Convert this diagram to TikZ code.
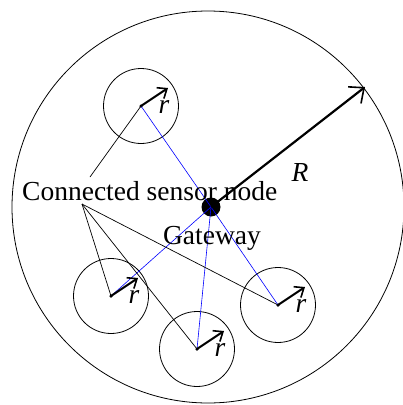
\documentclass[tikz,border=0pt]{standalone}
\usepackage{fontspec}
\setmainfont{Liberation Serif}
\usetikzlibrary{arrows.meta,positioning,calc}
\tikzset{
  field/.style={draw, circle, minimum size=392pt, inner sep=0pt, line width=0.8pt},
  cover/.style={draw, circle, minimum size=75pt, inner sep=0pt, line width=0.8pt},
  sensor/.style={circle, fill, inner sep=0pt, minimum size=3.5pt},
  gwdot/.style={circle, fill, inner sep=0pt, minimum size=19pt},
  rarrow/.style={-{Straight Barb[length=8pt,width=13pt,line width=1.6pt]}, line width=2pt},
  Rarrow/.style={-{Straight Barb[length=12pt,width=21pt,line width=1.6pt]}, line width=2.2pt},
  link/.style={blue, line width=0.6pt},
  lead/.style={black, line width=0.7pt},
  lbl/.style={font=\fontsize{27.5}{32}\selectfont, inner sep=0pt},
}
\begin{document}
\begin{tikzpicture}[x=1pt,y=-1pt]
  \useasboundingbox (0,0) rectangle (403,405);
  % sensing field and gateway
  \node[field] (fld) at (208,207) {};
  \node[gwdot] (gw) at (211,207) {};
  \coordinate (Rtip) at (365,87);
  % sensor nodes
  \foreach \n/\x/\y in {1/141/106, 2/111/296, 3/197/349, 4/278/305} {
    \node[sensor] (s\n) at (\x,\y) {};
    \node[cover] (c\n) at (s\n) {};
    \coordinate (t\n) at ($(s\n)+(27,-18)$);
  }
  % links to the gateway
  \foreach \n in {1,...,4}
    \draw[link] (gw.center) -- (s\n.center);
  % label and its leaders
  \node[lbl, anchor=base west] (csn) at (22,200) {Connected sensor node};
  \coordinate (up) at (90,177);
  \coordinate (dn) at (82,204);
  \draw[lead] (up) -- (s1.center);
  \foreach \n in {2,3,4}
    \draw[lead] (dn) -- (s\n.center);
  % radii
  \foreach \n in {1,...,4} {
    \draw[rarrow] (s\n.center) -- (t\n);
    \node[lbl] (r\n) at ($(s\n)+(23,1)$) {\textit{r}};
  }
  \draw[Rarrow] (gw.center) -- (Rtip);
  \node[lbl] (Rl) at (300,172) {\textit{R}};
  \node[lbl, anchor=base] (gwl) at (212,244) {Gateway};
\end{tikzpicture}
\end{document}
